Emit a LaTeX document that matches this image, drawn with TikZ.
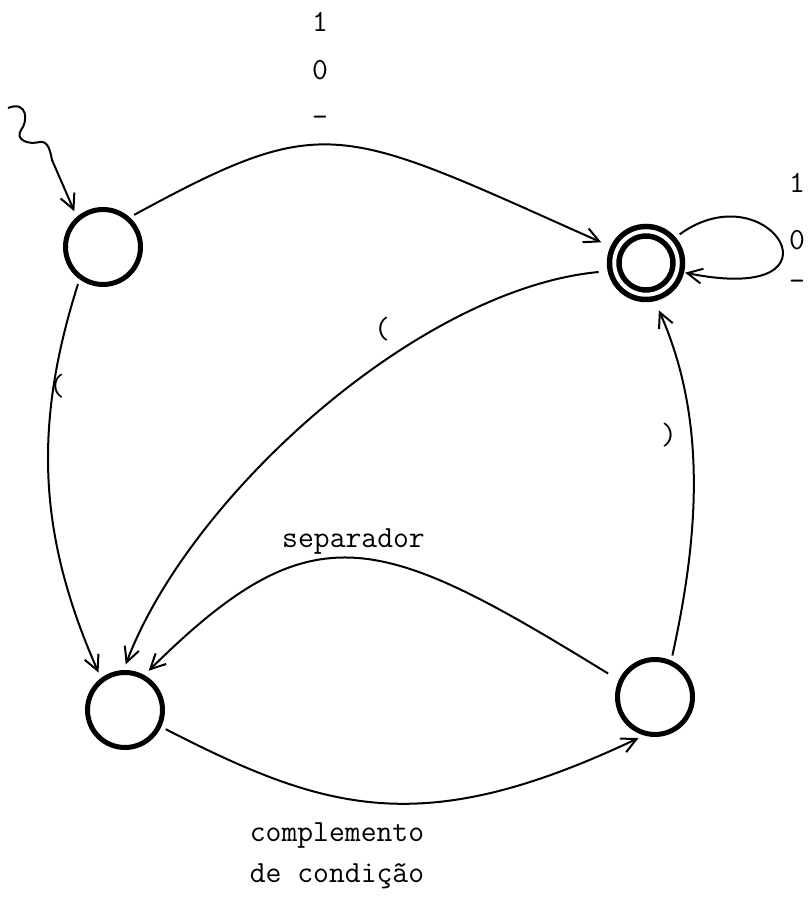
\documentclass[tikz,border=0pt]{standalone}
\usepackage{fontspec}
\usepackage{tikz}
\usetikzlibrary{arrows.meta}

\begin{document}
\begin{tikzpicture}[
    state/.style={draw,circle,line width=0.1cm,minimum size=1.5cm,inner sep=0pt},
    final/.style={state,double,double distance=0.08cm,line width=0.11cm,minimum size=1.27cm,outer sep=0.15cm},
    edge/.style={line width=0.04cm,-{Straight Barb[length=0.3cm,width=0.3cm]},shorten >=0.12cm,shorten <=0.1cm},
    lbl/.style={font=\fontsize{17.5}{21}\selectfont\ttfamily,inner sep=0pt}]
    \useasboundingbox (0,0) rectangle (16.14,18.08);
    % estados
    \node[state] (q0) at (2.06,13.14) {};
    \node[final] (q1) at (12.92,12.82) {};
    \node[state] (q2) at (2.50,3.88) {};
    \node[state] (q3) at (13.10,4.14) {};
    % entrada
    \coordinate (ini) at (0.16,15.92);
    \draw[edge,shorten <=0pt] (ini) .. controls (0.56,16.08) and (0.56,15.64) .. (0.42,15.48)
        .. controls (0.30,15.28) and (0.56,15.18) .. (0.80,15.24)
        .. controls (0.96,15.26) and (1.00,15.08) .. (1.04,14.88) -- (q0.131);
    % transicoes
    \draw[edge,shorten >=0.2cm] (q0.48) .. controls (6.54,15.88) and (6.76,15.58) .. (q1.155);
    \draw[edge] (q0.234) .. controls (0.66,9.56) and (0.76,7.38) .. (q2.127);
    \draw[edge,shorten <=0.18cm] (q1.192) .. controls (8.38,12.30) and (3.80,8.18) .. (q2.92);
    \draw[edge,shorten <=0.25cm] (q3.155) .. controls (7.56,7.44) and (6.26,7.92) .. (q2.61);
    \draw[edge] (q2.335) .. controls (6.54,1.84) and (8.46,1.28) .. (q3.254);
    \draw[edge,shorten >=0.2cm] (q3.66) .. controls (13.96,7.30) and (14.16,9.66) .. (q1.283);
    \draw[edge,shorten >=0.02cm] (q1.41) .. controls (15.40,14.70) and (17.08,11.94) .. (q1.346);
    % rotulos
    \node[lbl,anchor=base] (t1) at (6.40,17.44) {1};
    \node[lbl,anchor=base] (t0) at (6.40,16.48) {0};
    \node[lbl,anchor=base] (tsep) at (6.40,15.54) {-};
    \node[lbl,anchor=base] (l1) at (15.94,14.22) {1};
    \node[lbl,anchor=base] (l0) at (15.94,13.08) {0};
    \node[lbl,anchor=base] (lsep) at (15.94,12.26) {-};
    \node[lbl] (abre1) at (1.14,10.36) {(};
    \node[lbl] (abre2) at (7.64,11.50) {(};
    \node[lbl] (fecha) at (13.38,9.38) {)};
    \node[lbl,anchor=base] (sep) at (7.07,7.12) {separador};
    \node[lbl,anchor=base] (compl) at (6.74,1.24) {complemento};
    \node[lbl,anchor=base] (cond) at (6.74,0.42) {de condição};
\end{tikzpicture}
\end{document}
